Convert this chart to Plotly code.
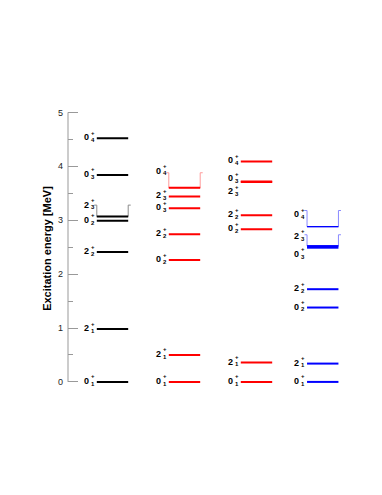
"""
Schéma de niveaux : énergies d'excitation 0+ et 2+ (exp, (a), (b), (c)).
"""

from plotly.graph_objects import Scatter, Figure

# données (MeV)
columns = ["exp", "(a)", "(b)", "(c)"]

exp_J = [0, 2, 2, 0, 2, 0, 0]
exp_n = [1, 1, 2, 2, 3, 3, 4]
exp_E = [0.0, 0.98, 2.41, 2.99, 3.07, 3.84, 4.52]

a_J = [0, 2, 0, 2, 0, 2, 0]
a_n = [1, 1, 2, 2, 3, 3, 4]
a_E = [0.0, 0.50, 2.26, 2.74, 3.22, 3.44, 3.60]

b_J = [0, 2, 0, 2, 0, 2, 0]
b_n = [1, 1, 2, 2, 3, 3, 4]
b_E = [0.0, 0.36, 2.83, 3.09, 3.72, 3.71, 4.09]

c_J = [0, 2, 0, 2, 0, 2, 0]
c_n = [1, 1, 2, 2, 3, 3, 4]
c_E = [0.0, 0.34, 1.38, 1.72, 2.49, 2.52, 2.88]

y_ticks = [0, 1, 2, 3, 4, 5]

# mise en page
col_x = [1.0, 2.0, 3.0, 3.92]
half_w = 0.218
flap = 0.035
colors = ["#000000", "#ff0000", "#ff0000", "#0000ff"]
bracket_colors = ["#8a8a8a", "#ff9a9a", "#ff9a9a", "#8a8aff"]
# décalage de l'étiquette (MeV) et hauteur du crochet, par (colonne, niveau)
label_shift = {(0, 4): 0.20, (1, 6): 0.30, (2, 4): 0.04, (2, 5): -0.19,
               (3, 6): 0.21, (3, 5): 0.17, (3, 4): -0.13}
brackets = {(0, 4): 0.21, (1, 6): 0.28, (3, 6): 0.30, (3, 5): 0.21}
thin_levels = {(3, 6)}

FONT = "Arial, Liberation Sans, sans-serif"


def label(x, y, text, size, xanchor, xshift, yshift):
    """Petite annotation de texte sans flèche."""
    return dict(x=x, y=y, text=text, showarrow=False, xanchor=xanchor,
                yanchor="middle", xshift=xshift, yshift=yshift,
                borderpad=0, font=dict(family=FONT, size=size, color="#000"))


def main() -> None:
    """Construit et écrit la figure."""
    fig = Figure()
    data = [(exp_J, exp_n, exp_E), (a_J, a_n, a_E),
            (b_J, b_n, b_E), (c_J, c_n, c_E)]
    annotations = []
    for ci, (Js, ns, Es) in enumerate(data):
        x0 = col_x[ci] - half_w
        x1 = col_x[ci] + half_w
        xs, ys, xt, yt = [], [], [], []
        for li, (J, n, E) in enumerate(zip(Js, ns, Es)):
            if (ci, li) in thin_levels:
                xt += [x0, x1, None]
                yt += [E, E, None]
            else:
                xs += [x0, x1, None]
                ys += [E, E, None]
            if (ci, li) in brackets:
                top = E + brackets[(ci, li)]
                fig.add_trace(Scatter(
                    x=[x0 - flap, x0, x0, x1, x1, x1 + flap],
                    y=[top, top, E, E, top, top], mode="lines",
                    line=dict(color=bracket_colors[ci], width=1),
                    hoverinfo="skip"))
            ly = E + label_shift.get((ci, li), 0.0)
            annotations.append(label(x0, ly, "<b>%d</b>" % J, 9, "right", -7, 1))
            annotations.append(label(x0, ly, "<b>+</b>", 6, "left", -7, 5.5))
            annotations.append(label(x0, ly, "<b>%d</b>" % n, 6, "left", -7, -1.8))
        fig.add_trace(Scatter(x=xs, y=ys, mode="lines",
                              line=dict(color=colors[ci], width=2),
                              hoverinfo="skip"))
        if xt:
            fig.add_trace(Scatter(x=xt, y=yt, mode="lines",
                                  line=dict(color=colors[ci], width=1.3),
                                  hoverinfo="skip"))
        annotations.append(dict(
            x=col_x[ci], y=-0.46, text="<b>%s</b>" % columns[ci],
            showarrow=False, yanchor="middle", borderpad=0,
            font=dict(family=FONT, size=10, color="#000")))

    fig.update_layout(
        width=374, height=487,
        margin=dict(l=60, r=22, t=99, b=105),
        paper_bgcolor="white", plot_bgcolor="white",
        showlegend=False,
        annotations=annotations,
        shapes=[dict(type="line", xref="paper", yref="y", x0=0, x1=0,
                     y0=0, y1=5, line=dict(color="#999999", width=1))],
        xaxis=dict(range=[0.382, 4.4375], visible=False),
        yaxis=dict(
            range=[-0.15, 5.1], showgrid=False, zeroline=False,
            showline=False, tickvals=y_ticks, ticks="inside", ticklen=10,
            tickcolor="#999999", tickwidth=1, ticklabelstandoff=4,
            tickfont=dict(family=FONT, size=9, color="#222222"),
            minor=dict(dtick=0.5, tick0=0, ticks="inside", ticklen=5,
                       tickcolor="#999999", showgrid=False),
            title=dict(text="<b>Excitation energy [MeV]</b>", standoff=4,
                       font=dict(family=FONT, size=11, color="#000")),
        ),
    )
    fig.write_html("out.html")


if __name__ == "__main__":
    main()
